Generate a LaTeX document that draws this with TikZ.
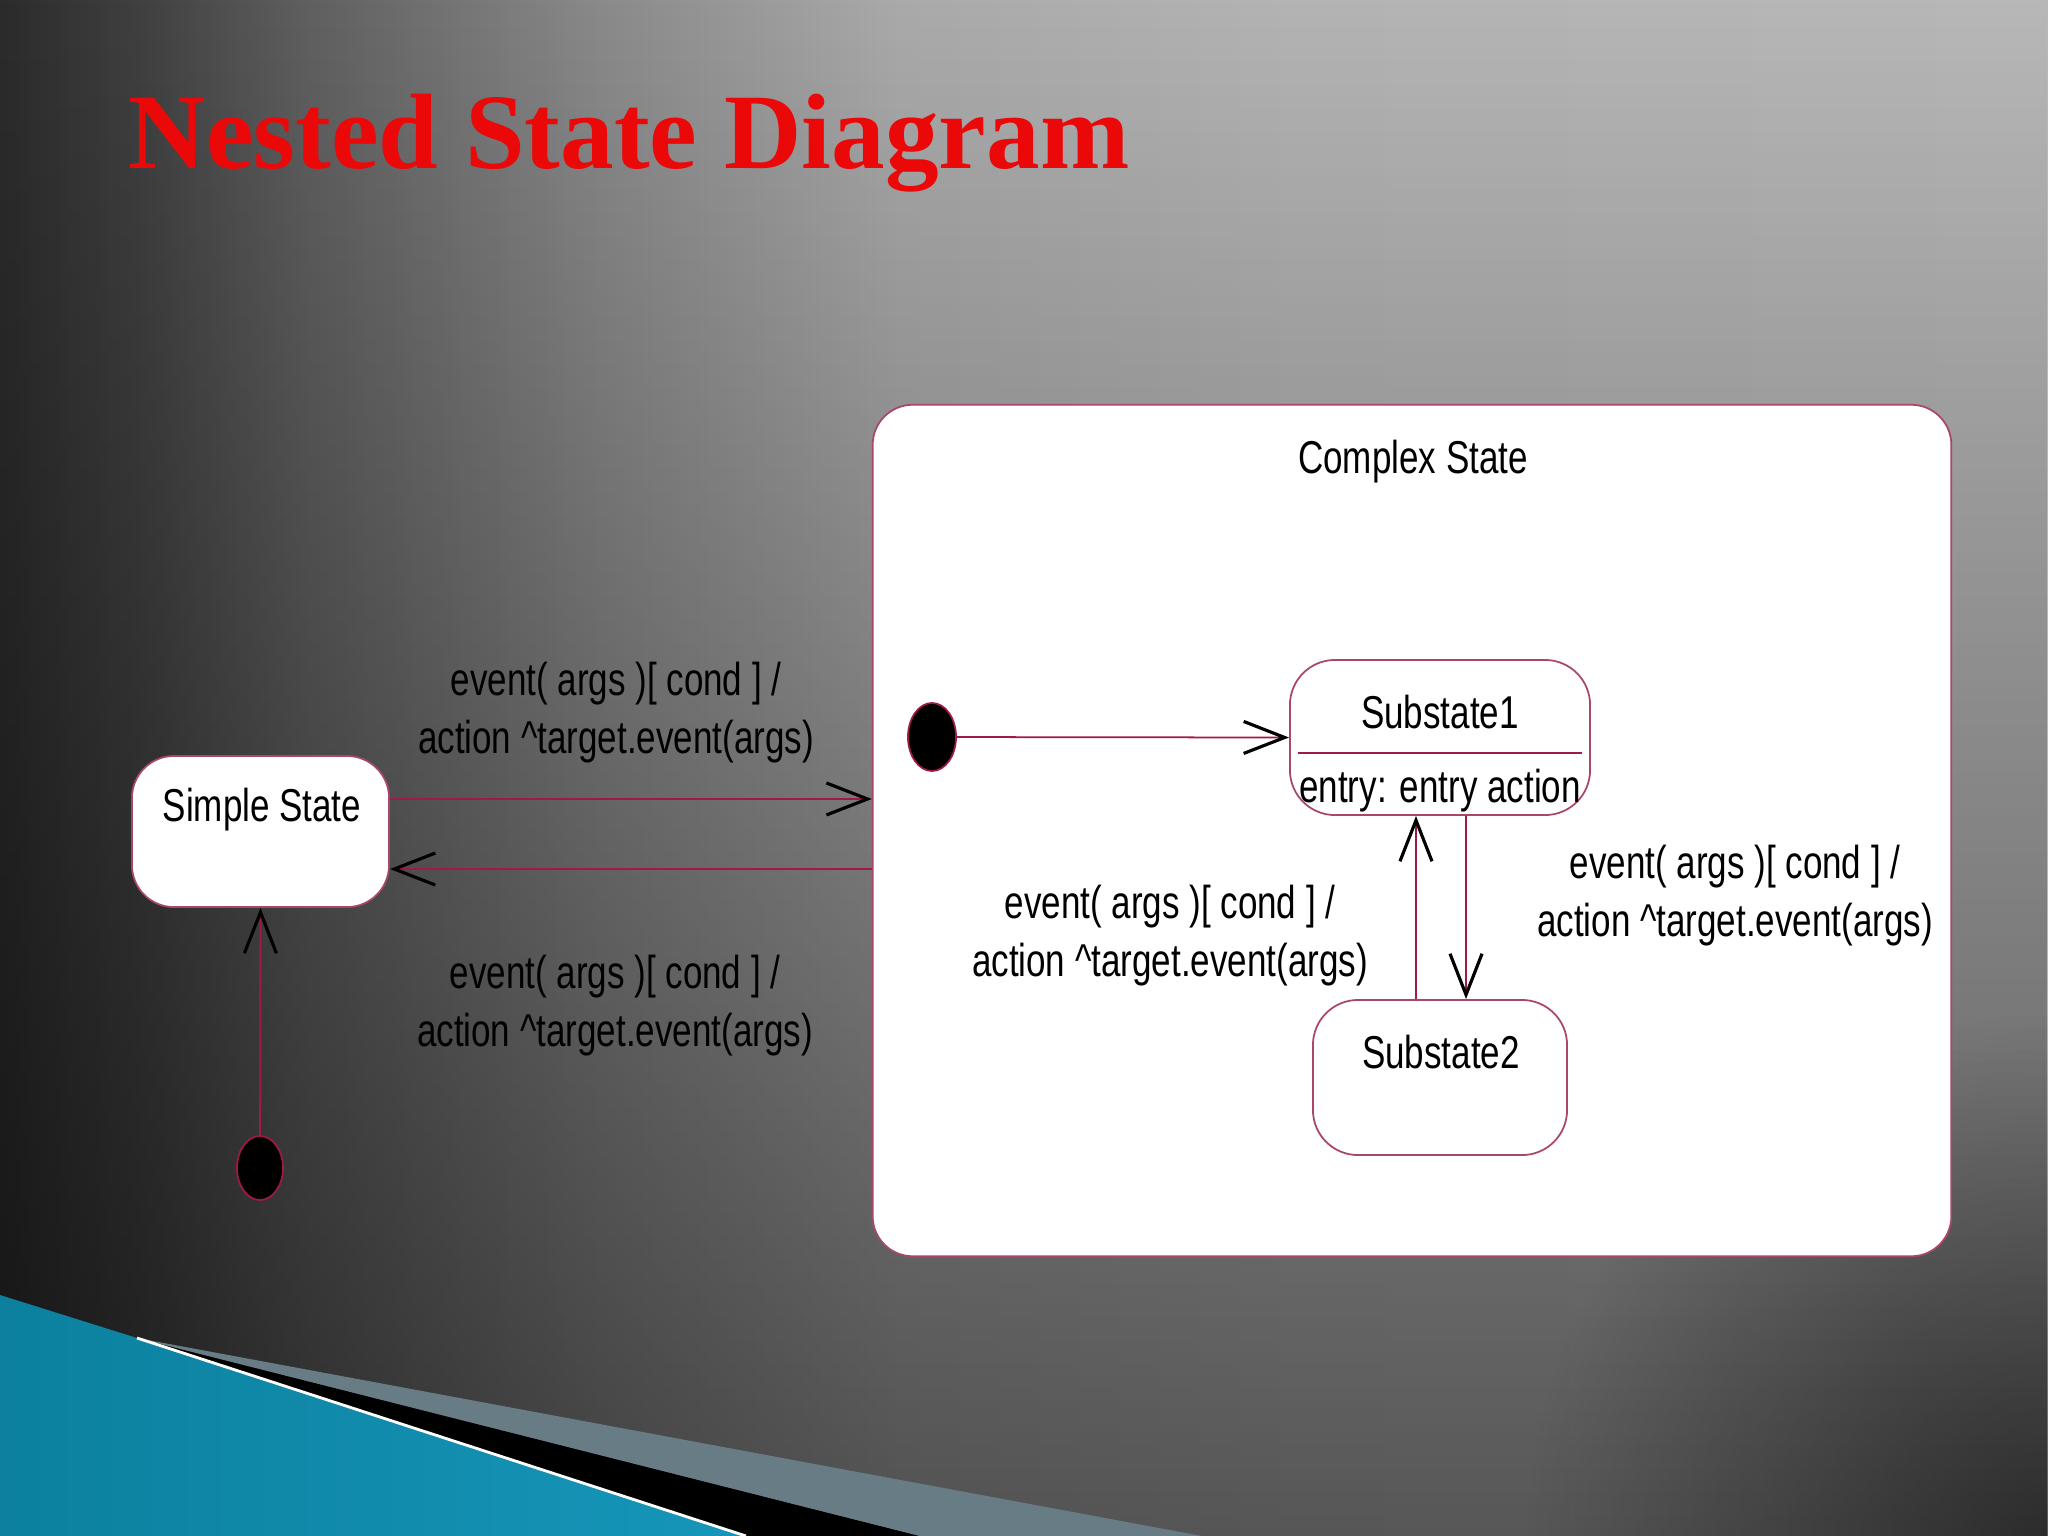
\documentclass[tikz,border=0pt]{standalone}
\usepackage{fontspec}
\usepackage{tikz}
\usetikzlibrary{arrows.meta,shapes,fadings}
\setmainfont{Liberation Sans}
\newfontfamily\narrowfont[FakeStretch=0.76]{Liberation Sans}
\newfontfamily\titlefont{Liberation Serif}
\definecolor{statecol}{RGB}{170,70,110}
\definecolor{linecol}{RGB}{160,25,75}
\definecolor{titlered}{RGB}{235,8,8}
\definecolor{bandgray}{RGB}{104,124,134}
\definecolor{blueA}{RGB}{12,128,158}
\definecolor{blueB}{RGB}{95,195,225}
\definecolor{blueC}{RGB}{22,150,186}
\pgfdeclarehorizontalshading{bghoriz}{100bp}{rgb(0bp)=(0.17,0.17,0.175); rgb(25bp)=(0.17,0.17,0.175); rgb(28.7bp)=(0.26,0.26,0.265); rgb(32.3bp)=(0.37,0.37,0.375); rgb(39.6bp)=(0.54,0.54,0.545); rgb(47bp)=(0.667,0.667,0.672); rgb(56.7bp)=(0.706,0.706,0.71); rgb(75bp)=(0.722,0.722,0.722); rgb(100bp)=(0.722,0.722,0.722)}
\tikzfading[name=vdark,top color=transparent!100,middle color=transparent!88,bottom color=transparent!48]
\tikzfading[name=cornerdark,inner color=transparent!50,outer color=transparent!100]
\tikzstyle{state}=[rectangle,rounded corners=0.45cm,draw=statecol,fill=white,line width=0.5pt,inner sep=0pt]
\tikzstyle{startdot}=[ellipse,fill=black,draw=linecol,line width=0.5pt,inner sep=0pt]
\tikzstyle{edge}=[draw=linecol,line width=0.5pt,->]
\tikzstyle{txt}=[font=\narrowfont\fontsize{13.1}{16.5}\selectfont,inner sep=0pt,text=black]

\begin{document}
\begin{tikzpicture}[x=0.01cm,y=-0.01cm,>={Straight Barb[length=0.41cm,width=0.32cm,color=black,line width=0.9pt]}]
      \useasboundingbox (0,0) rectangle (2048,1536);
      % background
      \begin{scope}
        \clip (0,0) rectangle (2048,1536);
        \shade[shading=bghoriz] (0,0) rectangle (2048,1536);
        \fill[black,path fading=vdark] (0,0) rectangle (2048,1536);
        \fill[black,path fading=cornerdark] (2048,1536) circle (520);
        \shade[left color=blueA,middle color=blueB,right color=blueC] (0,1295) -- (137,1338) -- (746,1536) -- (0,1536) -- cycle;
        \fill[black] (137,1338) -- (920,1536) -- (746,1536) -- cycle;
        \fill[bandgray] (137,1338) -- (1202,1536) -- (920,1536) -- cycle;
        \draw[white,line width=0.8pt] (137,1338) -- (746,1536);
      \end{scope}
      \node[anchor=base west,inner sep=0pt,text=titlered,font=\titlefont\bfseries\fontsize{30.5}{36}\selectfont] (title) at (128,168) {Nested State Diagram};
      % states
      \node[state,rounded corners=0.4cm,minimum width=10.78cm,minimum height=8.51cm] (complex) at (1412,830.5) {};
      \node[txt,anchor=base] (complextext) at (1413,473) {Complex State};
      \node[state,rounded corners=0.42cm,minimum width=2.57cm,minimum height=1.51cm] (simple) at (260.5,831.5) {};
      \node[txt,anchor=base] (simpletext) at (262,821) {Simple State};
      \node[state,minimum width=3.0cm,minimum height=1.55cm] (sub1) at (1440,737.5) {};
      \node[txt,anchor=base] (sub1text) at (1440,728) {Substate1};
      \node[txt,anchor=base] (sub1entry) at (1440,802) {entry: entry action};
      \draw[draw=linecol,line width=0.5pt] ([shift={(0.09cm,-0.155cm)}]sub1.west) -- ([shift={(-0.09cm,-0.155cm)}]sub1.east);
      \node[state,minimum width=2.54cm,minimum height=1.55cm] (sub2) at (1440,1077.5) {};
      \node[txt,anchor=base] (sub2text) at (1441,1068) {Substate2};
      \node[startdot,minimum width=0.46cm,minimum height=0.64cm] (start) at (260,1168) {};
      \node[startdot,minimum width=0.48cm,minimum height=0.68cm] (substart) at (932,737) {};
      % transitions
      \draw[edge] (start) -- (simple.south);
      \draw[edge] ([yshift=0.325cm]simple.east) -- ([yshift=0.315cm]complex.west);
      \draw[edge] ([yshift=-0.385cm]complex.west) -- ([yshift=-0.375cm]simple.east);
      \draw[edge] (substart) -- (sub1.west);
      \draw[edge] ([xshift=-0.24cm]sub2.north) -- ([xshift=-0.24cm]sub1.south);
      \draw[edge] ([xshift=0.26cm]sub1.south) -- ([xshift=0.26cm]sub2.north);
      % labels
      \node[txt,align=center] (lblin) at (616,713) {event( args )[ cond ] /\\action \textasciicircum target.event(args)};
      \node[txt,align=center] (lblout) at (615,1005.5) {event( args )[ cond ] /\\action \textasciicircum target.event(args)};
      \node[txt,align=center] (lblup) at (1170,935.5) {event( args )[ cond ] /\\action \textasciicircum target.event(args)};
      \node[txt,align=center] (lbldown) at (1735,895.5) {event( args )[ cond ] /\\action \textasciicircum target.event(args)};
\end{tikzpicture}
\end{document}
